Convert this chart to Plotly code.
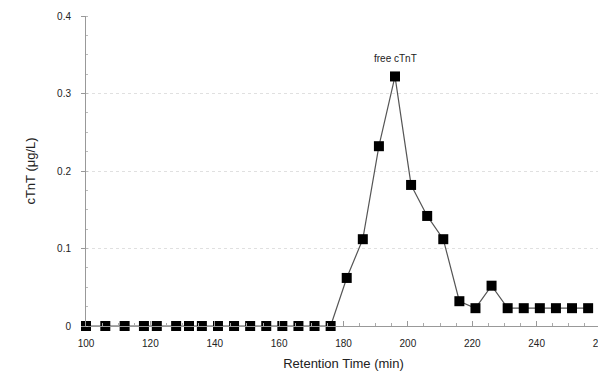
import plotly.graph_objects as go

retention_time = [100, 106, 112, 118, 122, 128, 132, 136, 141, 146, 151, 156, 161, 166, 171, 176,
                  181, 186, 191, 196, 201, 206, 211, 216, 221, 226, 231, 236, 241, 246, 251, 256]
ctnt = [0, 0, 0, 0, 0, 0, 0, 0, 0, 0, 0, 0, 0, 0, 0, 0,
        0.062, 0.112, 0.232, 0.322, 0.182, 0.142, 0.112, 0.032, 0.023, 0.052, 0.023, 0.023, 0.023, 0.023, 0.023, 0.023]
x_ticks = [100, 120, 140, 160, 180, 200, 220, 240, 260]
y_ticks = [0, 0.1, 0.2, 0.3, 0.4]
y_tick_labels = ["0", "0.1", "0.2", "0.3", "0.4"]
peak_label = "free cTnT"

fig = go.Figure()
fig.add_trace(go.Scatter(
    x=retention_time, y=ctnt, mode="lines+markers",
    line=dict(color="#555555", width=1.2),
    marker=dict(symbol="square", size=10, color="black"),
    showlegend=False, cliponaxis=False,
))
peak_i = ctnt.index(max(ctnt))
fig.add_annotation(x=retention_time[peak_i], y=ctnt[peak_i], text=peak_label,
                   showarrow=False, yshift=18,
                   font=dict(family="Liberation Sans, Arial", size=10, color="#222"))

# page body has an 8px default margin; figure sized to fit inside the window
fig.update_layout(
    width=598, height=363,
    margin=dict(l=78, r=5, t=8, b=45, autoexpand=False),
    plot_bgcolor="white", paper_bgcolor="white",
    font=dict(family="Liberation Sans, Arial", color="#222"),
)
fig.update_xaxes(
    range=[100, 260], tickvals=x_ticks, ticktext=[str(v) for v in x_ticks],
    showgrid=False, zeroline=False, automargin=False,
    showline=True, linecolor="#999", linewidth=1,
    ticks="inside", ticklen=5, tickcolor="#999",
    minor=dict(dtick=5, ticks="inside", ticklen=3, tickcolor="#aaa"),
    tickfont=dict(size=10, color="#222"),
    ticklabeloverflow="allow", ticklabelstandoff=8,
    title=dict(text="Retention Time (min)", font=dict(size=13, color="#222"), standoff=14),
)
fig.update_yaxes(
    range=[0, 0.4], tickvals=y_ticks, ticktext=y_tick_labels,
    showgrid=True, gridcolor="#e0e0e0", griddash="dot", gridwidth=1,
    zeroline=False, automargin=False,
    showline=True, linecolor="#999", linewidth=1,
    ticks="outside", ticklen=4, tickcolor="#999",
    minor=dict(dtick=0.025, ticks="inside", ticklen=2, tickcolor="#bbb"),
    tickfont=dict(size=10, color="#222"),
    ticklabelstandoff=8,
    title=dict(text="cTnT (μg/L)", font=dict(size=13, color="#222"), standoff=18),
)

fig.write_html("out.html")
